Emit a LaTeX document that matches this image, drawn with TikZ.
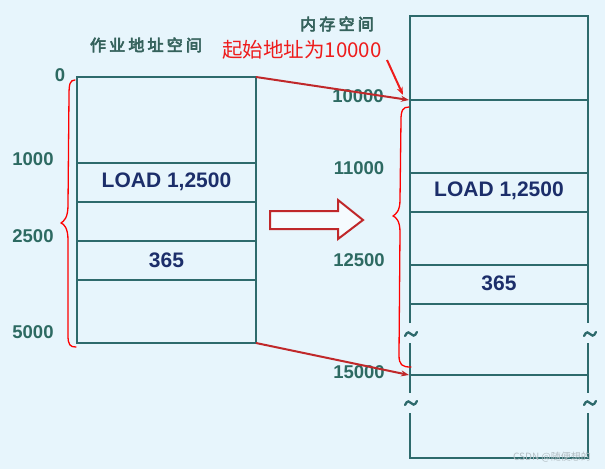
\documentclass[tikz,border=0pt]{standalone}
\usepackage{fontspec}
\setmainfont{Liberation Sans}
\newfontfamily\cjk{Noto Sans CJK SC}
\newfontfamily\cjkt[LetterSpace=20,FakeBold=4]{Noto Sans CJK SC}
\usetikzlibrary{arrows.meta}
\definecolor{bgc}{HTML}{E7F5FC}
\definecolor{boxc}{HTML}{2E6A6C}
\definecolor{numc}{HTML}{2D6A62}
\definecolor{cellc}{HTML}{1C2E6A}
\definecolor{titc}{HTML}{35625C}
\definecolor{darkred}{HTML}{C0282A}
\definecolor{brightred}{HTML}{EE1C1C}
\tikzset{
  box/.style={draw=boxc, line width=2pt},
  num/.style={text=numc, font=\bfseries\fontsize{18.5pt}{18.5pt}\selectfont, inner sep=0pt},
  cell/.style={text=cellc, font=\bfseries\fontsize{21pt}{21pt}\selectfont, inner sep=0pt},
  titl/.style={text=titc, font=\cjkt\fontsize{16pt}{16pt}\selectfont, inner sep=0pt},
  redl/.style={draw=darkred, line width=2pt, -{Stealth[length=8pt,width=6pt]}},
  brace/.style={draw=red, line width=1.3pt, line cap=round, line join=round},
  wave/.pic={\draw[draw=boxc, line width=2.3pt, line cap=round] (-6,2) .. controls (-4,-3) and (-1,-2) .. (0,0) .. controls (1,2) and (4,3) .. (6,-2);},
  hollow/.style={draw=darkred, line width=2pt, fill=white!60!bgc, line join=miter}
}
\begin{document}
\begin{tikzpicture}[x=1pt,y=-1pt]
\fill[bgc] (0,0) rectangle (605,469);
\useasboundingbox (0,0) rectangle (605,469);

% titles
\node[titl] (t1) at (146,45) {作业地址空间};
\node[titl] (t2) at (337,24) {内存空间};
\node[text=brightred, font=\cjk\fontsize{20.5pt}{20.5pt}\selectfont, inner sep=0pt] (start) at (302,50) {起始地址为10000};

% left box
\draw[box] (77,77) rectangle (256,343);
\foreach \y in {163,202,241,280} \draw[box] (77,\y) -- (256,\y);
\node[cell] (lload) at (166.5,182) {LOAD 1,2500};
\node[cell] (l365) at (166.5,260) {365};
\coordinate (L0) at (256,77);
\coordinate (L5) at (256,343);

% left labels
\node[num] (n0) at (60,75) {0};
\node[num] (n1000) at (33,159) {1000};
\node[num] (n2500) at (33,236) {2500};
\node[num] (n5000) at (33,332) {5000};

% right box
\draw[box] (410,323) -- (410,16) -- (588,16) -- (588,323);
\draw[box] (410,343) -- (410,393);
\draw[box] (588,343) -- (588,393);
\draw[box] (410,413) -- (410,458) -- (588,458) -- (588,413);
\foreach \y in {100,173,212,265,304,375} \draw[box] (410,\y) -- (588,\y);
\node[cell] (rload) at (499,191) {LOAD 1,2500};
\node[cell] (r365) at (499,283) {365};
\pic at (411,334) {wave};
\pic at (590,334) {wave};
\pic at (411,403) {wave};
\pic at (590,403) {wave};
\coordinate (R0) at (409,100);
\coordinate (R15) at (409,375);

% right labels
\node[num] (m10000) at (358,96) {10000};
\node[num] (m11000) at (359,168) {11000};
\node[num] (m12500) at (359,260) {12500};
\node[num] (m15000) at (359,372) {15000};

% mapping lines
\draw[redl] (L0) -- (R0);
\draw[redl] (L5) -- (R15);
\coordinate (sa) at (387,60);
\coordinate (sb) at (403,95);
\draw[draw=brightred, line width=2pt, -{Stealth[length=8pt,width=6pt]}] (sa) -- (sb);

% hollow arrow
\draw[hollow] (270,211) -- (338,211) -- (338,200) -- (363,220) -- (338,239) -- (338,229) -- (270,229) -- cycle;

% braces
\draw[brace] (75,80) .. controls (70,80) and (69,84) .. (69,95) -- (68,205)
  .. controls (68,218) and (64,221) .. (61,223) .. controls (64,224) and (68,228) .. (68,240)
  -- (68,335) .. controls (68,345) and (70,347) .. (76,347);
\draw[brace] (409,107) .. controls (403,107) and (401,110) .. (401,120) -- (400,200)
  .. controls (400,211) and (396,214) .. (393,216) .. controls (396,217) and (400,221) .. (400,232)
  -- (399,355) .. controls (399,365) and (402,367) .. (411,367);

% watermark
\node[text=black!22!bgc, font=\cjk\fontsize{10pt}{10pt}\selectfont, inner sep=0pt] (wm) at (552,457) {CSDN @随便想的};
\end{tikzpicture}
\end{document}
